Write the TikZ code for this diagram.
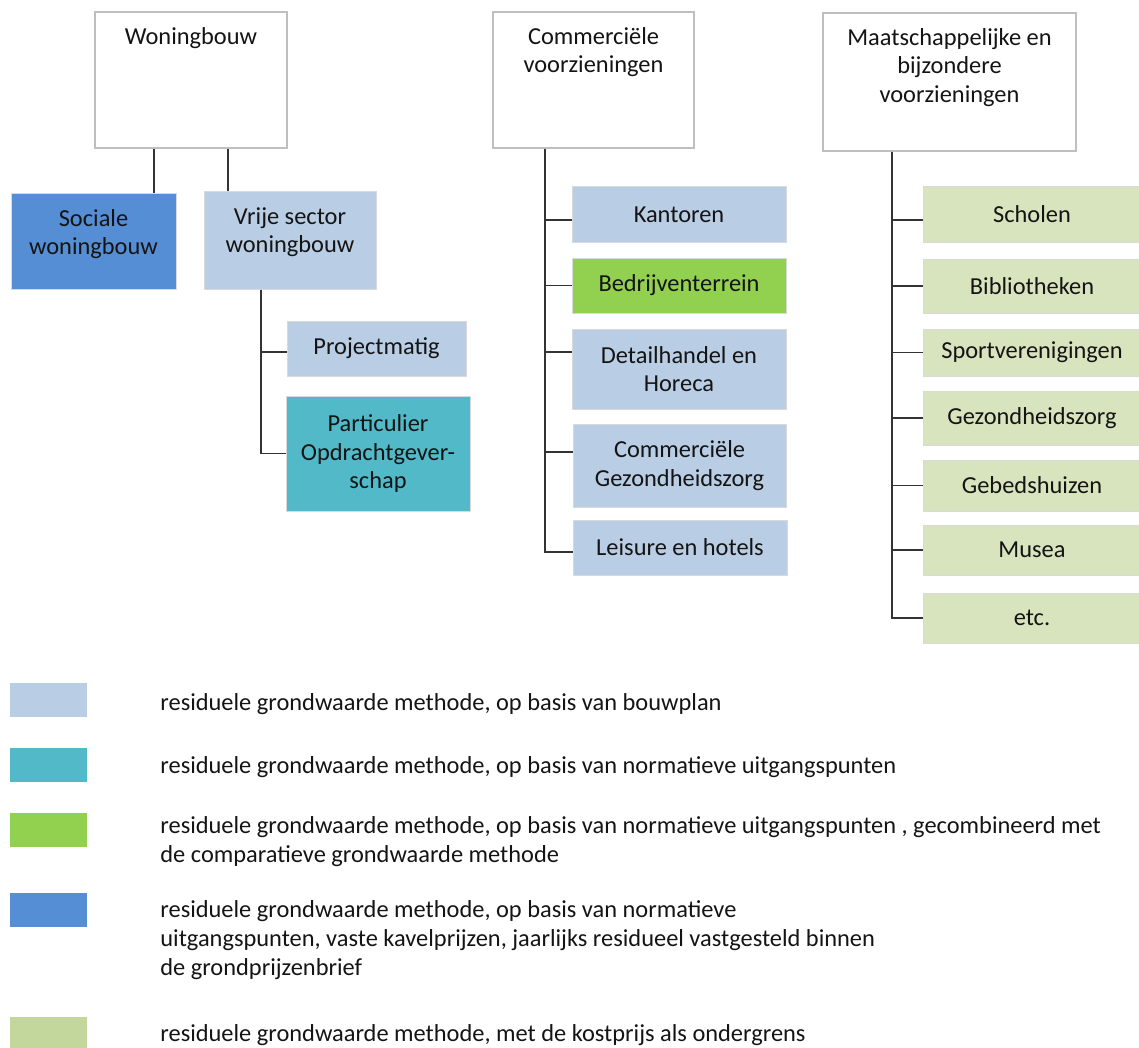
\documentclass[tikz,border=0pt]{standalone}
\usepackage{fontspec}
\setmainfont{Carlito}
\usepackage{tikz}

\definecolor{hoofdrand}{HTML}{BFBFBF}
\definecolor{lichtblauw}{HTML}{B9CDE5}
\definecolor{donkerblauw}{HTML}{558ED5}
\definecolor{turkoois}{HTML}{52B9C9}
\definecolor{felgroen}{HTML}{92D050}
\definecolor{bleekgroen}{HTML}{D7E4BD}
\definecolor{legendagroen}{HTML}{C3D69B}

\newcommand{\toptxt}[3]{\parbox[c][#2][t]{#1}{\centering\strut #3}}

\begin{document}
\begin{tikzpicture}[x=0.5pt, y=-0.5pt,
      font=\fontsize{12.2}{14.3}\selectfont, text=black!92,
      hoofd/.style ={draw=hoofdrand, line width=1pt, fill=white, inner xsep=0pt, inner ysep=6pt},
      bovenvak/.style ={draw=black!15, line width=0.5pt, inner xsep=0pt, inner ysep=6pt},
      vak/.style ={draw=black!15, line width=0.5pt, inner sep=0pt, align=center},
      lijn/.style ={draw=black!80, line width=0.9pt},
      kleur/.style ={minimum width=38.5pt, minimum height=17pt, inner sep=0pt},
      uitleg/.style ={anchor=base west, align=left, inner sep=0pt}]

   \useasboundingbox (0,0) rectangle (1139,1048);
   \clip (0,0) rectangle (1139,1048);

   % woningbouw
   \node[hoofd] (woning)  at (191,80)  {\toptxt{96pt}{56pt}{Woningbouw}};
   \node[bovenvak, fill=donkerblauw] (sociale)  at (93.5,241.5)  {\toptxt{82.5pt}{35.5pt}{Sociale\\woningbouw}};
   \node[bovenvak, fill=lichtblauw] (vrije)  at (290,240.5)  {\toptxt{86pt}{36.5pt}{Vrije sector\\woningbouw}};
   \node[vak, fill=lichtblauw, minimum width=89.5pt, minimum height=27.5pt] (project)  at (376.5,348.5)  {Projectmatig};
   \node[vak, fill=turkoois, minimum width=92pt, minimum height=57.5pt] (partic)  at (378,453.5)  {Particulier\\Opdrachtgever-\\schap};

   % commerciele voorzieningen
   \node[hoofd] (commerc)  at (593.5,80)  {\toptxt{100.5pt}{56pt}{Commerciële\\voorzieningen}};
   \node[vak, fill=lichtblauw, minimum width=107pt, minimum height=27.5pt] (kantoren)  at (679,214.5)  {Kantoren};
   \node[vak, fill=felgroen, minimum width=107pt, minimum height=27.5pt] (bedrijf)  at (679,285.5)  {Bedrijventerrein};
   \node[vak, fill=lichtblauw, minimum width=107pt, minimum height=40pt] (detail)  at (679,369)  {Detailhandel en\\Horeca};
   \node[vak, fill=lichtblauw, minimum width=106.5pt, minimum height=41.5pt] (cgezond)  at (679.5,465.5)  {Commerciële\\Gezondheidszorg};
   \node[vak, fill=lichtblauw, minimum width=107pt, minimum height=27.5pt] (leisure)  at (680,547.5)  {Leisure en hotels};

   % maatschappelijke voorzieningen
   \node[hoofd] (maatsch)  at (949.5,82)  {\toptxt{126.5pt}{57pt}{Maatschappelijke en\\bijzondere\\voorzieningen}};
   \node[vak, fill=bleekgroen, minimum width=109pt, minimum height=27.5pt] (scholen)  at (1032,214.5)  {Scholen};
   \node[vak, fill=bleekgroen, minimum width=109pt, minimum height=27pt] (biblio)  at (1032,286)  {Bibliotheken};
   \node[vak, fill=bleekgroen, minimum width=109pt, minimum height=23.5pt] (sport)  at (1032,352.5)  {Sportverenigingen};
   \node[vak, fill=bleekgroen, minimum width=109pt, minimum height=27pt] (gezond)  at (1032,418)  {Gezondheidszorg};
   \node[vak, fill=bleekgroen, minimum width=109pt, minimum height=25.5pt] (gebeds)  at (1032,485.5)  {Gebedshuizen};
   \node[vak, fill=bleekgroen, minimum width=109pt, minimum height=25pt] (musea)  at (1032,550)  {Musea};
   \node[vak, fill=bleekgroen, minimum width=109pt, minimum height=25pt] (etc)  at (1032,618)  {etc.};

   \draw[lijn] ([xshift=-18.5pt]woning.south) to ([xshift=-18.5pt]woning.south |- sociale.north);
   \draw[lijn] ([xshift=18.5pt]woning.south) to ([xshift=18.5pt]woning.south |- vrije.north);
   \draw[lijn] ([xshift=-14.5pt]vrije.south) |- ([yshift=-1.75pt]project.west);
   \draw[lijn] ([xshift=-14.5pt]vrije.south) |- (partic.west);

   \draw[lijn] ([xshift=-24.25pt]commerc.south) |- ([yshift=-2.75pt]kantoren.west);
   \draw[lijn] ([xshift=-24.25pt]commerc.south) |- (bedrijf.west);
   \draw[lijn] ([xshift=-24.25pt]commerc.south) |- ([yshift=8.5pt]detail.west);
   \draw[lijn] ([xshift=-24.25pt]commerc.south) |- ([yshift=6.75pt]cgezond.west);
   \draw[lijn] ([xshift=-24.25pt]commerc.south) |- ([yshift=-2.25pt]leisure.west);

   \draw[lijn] ([xshift=-28.75pt]maatsch.south) |- ([yshift=-2.75pt]scholen.west);
   \draw[lijn] ([xshift=-28.75pt]maatsch.south) |- (biblio.west);
   \draw[lijn] ([xshift=-28.75pt]maatsch.south) |- (sport.west);
   \draw[lijn] ([xshift=-28.75pt]maatsch.south) |- (gezond.west);
   \draw[lijn] ([xshift=-28.75pt]maatsch.south) |- (gebeds.west);
   \draw[lijn] ([xshift=-28.75pt]maatsch.south) |- (musea.west);
   \draw[lijn] ([xshift=-28.75pt]maatsch.south) |- (etc.west);

   % legenda (base = baseline van de laatste regel)
   \node[kleur, fill=lichtblauw] (kleur1)  at (48.5,700)  {};
   \node[kleur, fill=turkoois] (kleur2)  at (48.5,765)  {};
   \node[kleur, fill=felgroen] (kleur3)  at (48.5,830)  {};
   \node[kleur, fill=donkerblauw] (kleur4)  at (48.5,910)  {};
   \node[kleur, fill=legendagroen] (kleur5)  at (48.5,1034)  {};

   \node[uitleg] (uitleg1)  at (160,710)  {residuele grondwaarde methode, op basis van bouwplan};
   \node[uitleg] (uitleg2)  at (160,773.5)  {residuele grondwaarde methode, op basis van normatieve uitgangspunten};
   \node[uitleg] (uitleg3)  at (160,862.5)  {residuele grondwaarde methode, op basis van normatieve uitgangspunten , gecombineerd met\\de comparatieve grondwaarde methode};
   \node[uitleg] (uitleg4)  at (160,975)  {residuele grondwaarde methode, op basis van normatieve\\uitgangspunten, vaste kavelprijzen, jaarlijks residueel vastgesteld binnen\\de grondprijzenbrief};
   \node[uitleg] (uitleg5)  at (160,1041)  {residuele grondwaarde methode, met de kostprijs als ondergrens};
 \end{tikzpicture}
\end{document}
